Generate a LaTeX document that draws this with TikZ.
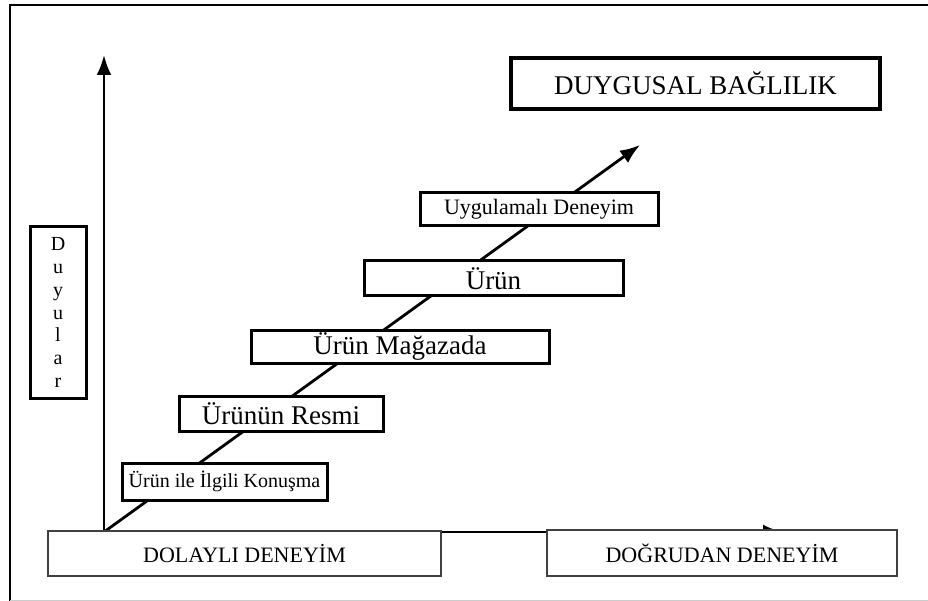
\documentclass[tikz,border=0pt]{standalone}
\usepackage{fontspec}
\setmainfont{Liberation Serif}
\usepackage{tikz}
\usetikzlibrary{arrows.meta}
\tikzset{stage/.style={fill=white,draw,line width=3pt,inner sep=0pt,align=center},
         axisbox/.style={fill=white,draw=black!75,line width=1.6pt,inner sep=0pt,align=center},
         axis/.style={line width=2.8pt,-{Latex[length=20pt,width=15pt]}}}
\newcommand{\fs}[1]{\fontsize{#1}{#1}\selectfont}

\begin{document}
\begin{tikzpicture}[x=1pt,y=-1pt]
\useasboundingbox (0,0) rectangle (928,601);
% frame
\draw[line width=2.6pt] (928,5) -- (10,5) -- (10,601);
\draw[black!20,line width=1pt] (10,600) -- (928,600);
% axes
\coordinate (o) at (104,532);
\coordinate (ytop) at (104,55);
\coordinate (xend) at (783,532);
\coordinate (dtop) at (640,145);
\path[axis] (o) edge (ytop);
\path[axis] (o) edge (xend);
\path[axis] (o) edge (dtop);
% boxes
\node[stage,minimum width=369,minimum height=51,line width=3.4pt] (bag) at (695.5,83.5) {\fs{27}DUYGUSAL BAĞLILIK};
\node[stage,minimum width=238,minimum height=33] (uyg) at (539,209.5) {\fs{22}Uygulamalı Deneyim};
\node[stage,minimum width=259,minimum height=35] (urun) at (493.5,278.5) {\fs{27}Ürün};
\node[stage,minimum width=298,minimum height=33] (mag) at (400,346.5) {\fs{27}Ürün Mağazada};
\node[stage,minimum width=204,minimum height=35] (resim) at (281,413.5) {\fs{27}Ürünün Resmi};
\node[stage,minimum width=205,minimum height=37] (konus) at (224.5,481.5) {\fs{20}Ürün ile İlgili Konuşma};
\node[stage,minimum width=56,minimum height=171,font=\fontsize{20}{22.8}\selectfont] (duy) at (58,312.5) {D\\u\\y\\u\\l\\a\\r};
\node[axisbox,minimum width=393,minimum height=45] (dolayli) at (244.5,553.5) {\fs{22}DOLAYLI DENEYİM};
\node[axisbox,minimum width=350,minimum height=46] (dogru) at (722,553) {\fs{22}DOĞRUDAN DENEYİM};
\end{tikzpicture}
\end{document}
